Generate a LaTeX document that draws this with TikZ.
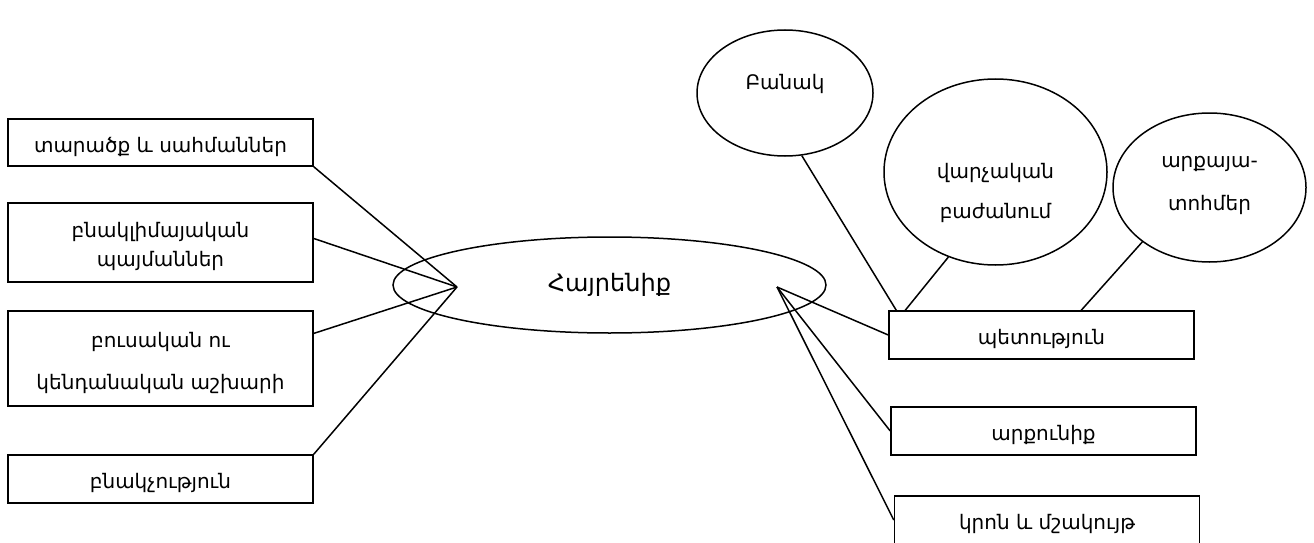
\documentclass[tikz,border=0pt]{standalone}
\usepackage{fontspec}
\setmainfont{DejaVu Sans}
\usetikzlibrary{shapes.geometric,calc}
\begin{document}
\begin{tikzpicture}[x=1pt,y=-1pt, line width=1.5pt,
  txt/.style={align=center, inner sep=0pt, font=\fontsize{20}{24}\selectfont},
  box/.style={draw, rectangle, minimum width=305pt, minimum height=48pt, inner sep=0pt},
  boxtext/.style={label={[txt, yshift=-4pt]center:#1}},
  oval/.style={draw, ellipse, inner sep=0pt, align=center}]
\useasboundingbox (0,0) rectangle (1314,543);
% left boxes
\node[box, minimum height=47pt, boxtext={տարածք և սահմաններ}] (b1) at (160.5,142.5) {};
\node[box, minimum height=79pt, label={[txt, font=\fontsize{20}{29}\selectfont, yshift=-4pt]center:բնակլիմայական\\պայմաններ}] (b2) at (160.5,242.5) {};
\node[box, minimum height=95pt, label={[txt, font=\fontsize{20}{42}\selectfont, yshift=-4pt]center:բուսական ու\\կենդանական աշխարի}] (b3) at (160.5,358.5) {};
\node[box, boxtext={բնակչություն}] (b4) at (160.5,479) {};
% central ellipse
\node[oval, minimum width=433pt, minimum height=96pt, font=\fontsize{24}{28}\selectfont] (home) at (609.5,285) {Հայրենիք};
\coordinate (L) at (457,287);
\coordinate (R) at (777,287);
% right boxes
\node[box, boxtext={պետություն}] (pet) at (1041.5,335) {};
\node[box, boxtext={արքունիք}] (arq) at (1043.5,431) {};
\node[box, boxtext={կրոն և մշակույթ}] (kron) at (1047,520) {};
% top ovals
\node[oval, minimum width=176pt, minimum height=126pt,
  label={[txt, yshift=9pt]center:Բանակ}] (banak) at (785,93) {};
\node[oval, minimum width=223pt, minimum height=186pt,
  label={[txt, font=\fontsize{20}{40}\selectfont, yshift=-21pt]center:վարչական\\բաժանում}] (varch) at (995.5,172) {};
\node[oval, minimum width=193pt, minimum height=149pt,
  label={[txt, font=\fontsize{20}{43}\selectfont, yshift=2pt]center:արքայա-\\տոհմեր}] (arqa) at (1209.5,187.5) {};
% connectors left
\draw (b1.south east) -- (L);
\draw ($(b2.north east)!0.45!(b2.south east)$) -- (L);
\draw ($(b3.north east)!0.24!(b3.south east)$) -- (L);
\draw (b4.north east) -- (L);
% connectors right
\draw (R) -- (pet.west);
\draw (R) -- (arq.west);
\draw (R) -- (kron.west);
% connectors top
\draw (banak.-75) -- ($(pet.north west)+(8,0)$);
\draw (varch.-119) -- ($(pet.north west)+(17,0)$);
\draw (arqa.-141) -- ($(pet.north west)+(193,0)$);
\end{tikzpicture}
\end{document}
